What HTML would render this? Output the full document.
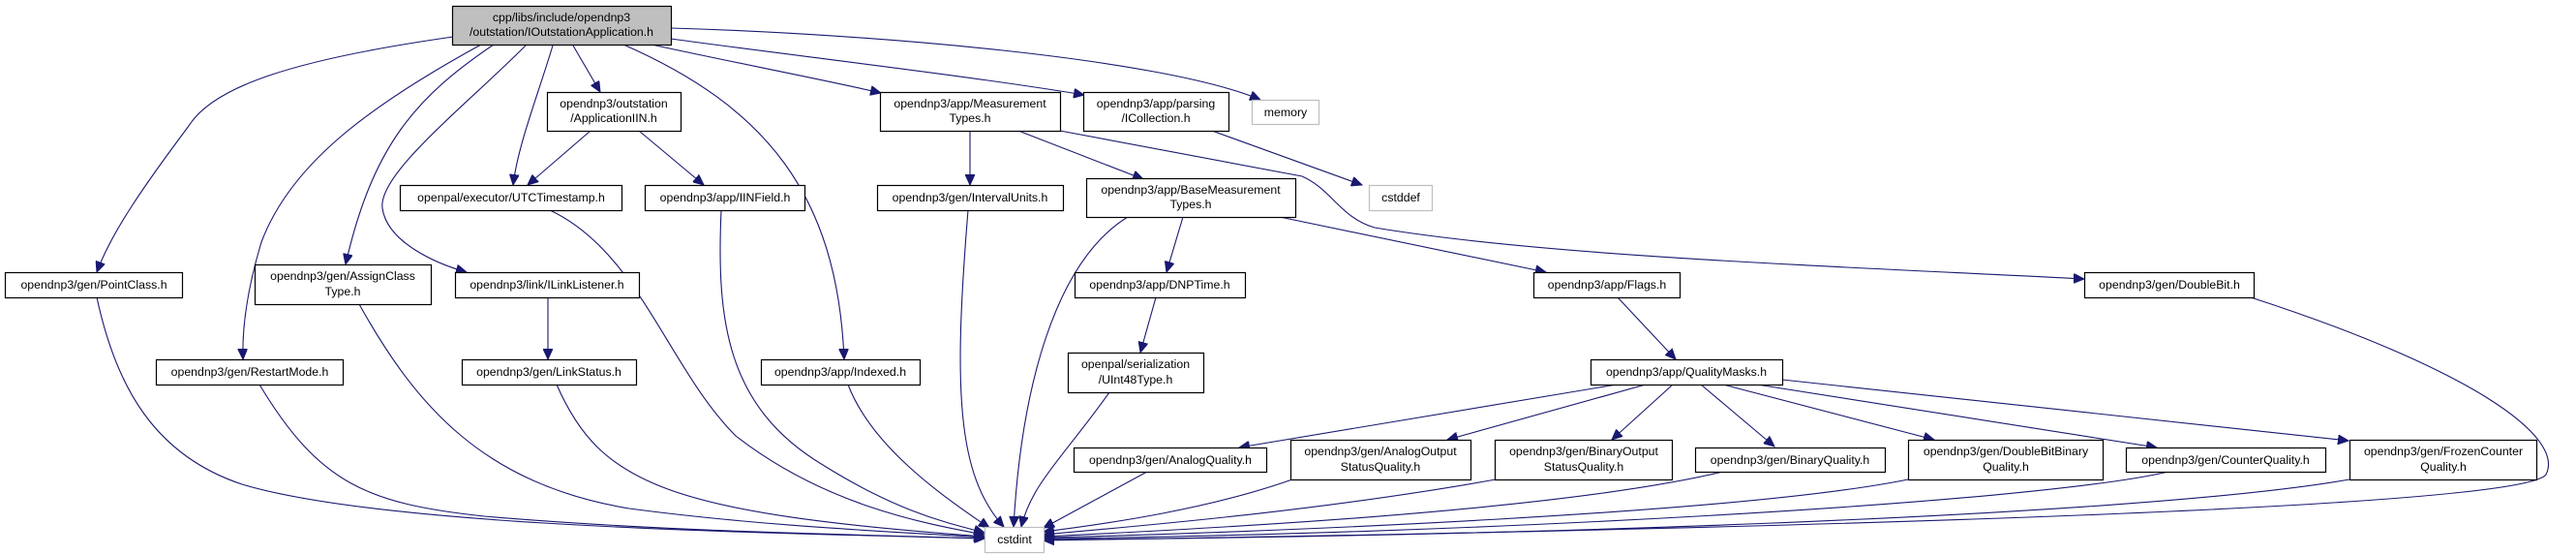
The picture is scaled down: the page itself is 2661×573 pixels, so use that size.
<!DOCTYPE html>
<html><head><meta charset="utf-8"><style>
html,body{margin:0;padding:0;background:#fff;}
svg{display:block;}
text{font-family:"Liberation Sans",Arial,sans-serif;font-size:12.3px;fill:#000;text-anchor:middle;}
.n{fill:#fff;stroke:#000;stroke-width:1.2;}
.g{fill:#fff;stroke:#bfbfbf;stroke-width:1.2;}
.e{fill:none;stroke:#191970;stroke-width:1.1;}
</style></head><body>
<svg width="2661" height="573" viewBox="0 0 2661 573" xmlns="http://www.w3.org/2000/svg">
<defs>
<marker id="a" markerUnits="userSpaceOnUse" markerWidth="12" markerHeight="10" refX="11" refY="5" orient="auto">
<path d="M0,0 L11,5 L0,10 z" fill="#191970" stroke="#191970"/>
</marker>
</defs>
<g class="edges">
<!-- from main -->
<path class="e" marker-end="url(#a)" d="M468,38 C300,62 220,90 195,130 C150,190 115,240 100,281"/>
<path class="e" marker-end="url(#a)" d="M497,46 C380,110 300,170 270,250 C255,300 250,340 251,371"/>
<path class="e" marker-end="url(#a)" d="M510,46 C430,100 385,150 357,273"/>
<path class="e" marker-end="url(#a)" d="M543,47 C480,110 390,180 395,215 C400,250 450,272 482,281"/>
<path class="e" marker-end="url(#a)" d="M571,47 C555,100 535,150 530,191"/>
<path class="e" marker-end="url(#a)" d="M592,47 L620,95"/>
<path class="e" marker-end="url(#a)" d="M644,46 C790,110 865,200 872,371"/>
<path class="e" marker-end="url(#a)" d="M673,46 C760,65 850,82 910,96"/>
<path class="e" marker-end="url(#a)" d="M693,40 C800,55 1000,78 1120,98"/>
<path class="e" marker-end="url(#a)" d="M693,29 C900,35 1200,60 1302,103"/>
<!-- second level -->
<path class="e" marker-end="url(#a)" d="M610,135 L545,191"/>
<path class="e" marker-end="url(#a)" d="M660,135 L727,191"/>
<path class="e" marker-end="url(#a)" d="M1002,135 L1002,191"/>
<path class="e" marker-end="url(#a)" d="M1052,135 L1181,185"/>
<path class="e" marker-end="url(#a)" d="M1095,135 L1345,182 C1375,195 1385,225 1420,235 C1600,265 1900,275 2153,288"/>
<path class="e" marker-end="url(#a)" d="M1252,135 L1407,191"/>
<path class="e" marker-end="url(#a)" d="M1222,224 L1205,281"/>
<path class="e" marker-end="url(#a)" d="M1322,224 L1597,281"/>
<path class="e" marker-end="url(#a)" d="M1194,307 L1178,364"/>
<path class="e" marker-end="url(#a)" d="M1671,307 L1731,371"/>
<path class="e" marker-end="url(#a)" d="M566,307 L566,371"/>
<!-- QualityMasks fan -->
<path class="e" marker-end="url(#a)" d="M1670,397 L1280,462"/>
<path class="e" marker-end="url(#a)" d="M1700,397 L1495,454"/>
<path class="e" marker-end="url(#a)" d="M1728,397 L1665,454"/>
<path class="e" marker-end="url(#a)" d="M1757,397 L1833,461"/>
<path class="e" marker-end="url(#a)" d="M1780,397 L1998,454"/>
<path class="e" marker-end="url(#a)" d="M1815,397 L2228,462"/>
<path class="e" marker-end="url(#a)" d="M1841,392 L2426,455"/>
<!-- to cstdint -->
<path class="e" marker-end="url(#a)" d="M100,307 C120,400 160,470 250,500 C400,545 800,550 1017,556"/>
<path class="e" marker-end="url(#a)" d="M268,397 C330,500 380,520 500,533 C700,550 900,552 1017,556"/>
<path class="e" marker-end="url(#a)" d="M371,314 C430,420 500,500 650,525 C800,545 950,550 1017,555"/>
<path class="e" marker-end="url(#a)" d="M575,397 C620,500 690,530 1017,554"/>
<path class="e" marker-end="url(#a)" d="M568,217 C660,260 690,380 760,450 C850,520 950,540 1017,552"/>
<path class="e" marker-end="url(#a)" d="M745,217 C740,330 750,420 850,480 C930,530 980,540 1017,550"/>
<path class="e" marker-end="url(#a)" d="M876,397 C900,460 970,510 1022,545"/>
<path class="e" marker-end="url(#a)" d="M1000,217 C985,400 988,490 1037,544"/>
<path class="e" marker-end="url(#a)" d="M1165,224 C1090,270 1055,400 1047,544"/>
<path class="e" marker-end="url(#a)" d="M1146,405 C1100,470 1065,500 1055,544"/>
<path class="e" marker-end="url(#a)" d="M1185,487 L1078,545"/>
<path class="e" marker-end="url(#a)" d="M1335,495 C1250,525 1150,540 1078,549"/>
<path class="e" marker-end="url(#a)" d="M1545,495 C1350,530 1150,545 1078,552"/>
<path class="e" marker-end="url(#a)" d="M1780,487 C1600,530 1200,548 1078,554"/>
<path class="e" marker-end="url(#a)" d="M1971,495 C1800,530 1300,550 1078,555"/>
<path class="e" marker-end="url(#a)" d="M2240,487 C2100,520 1500,552 1078,556"/>
<path class="e" marker-end="url(#a)" d="M2427,495 C2200,535 1500,555 1078,557"/>
<path class="e" marker-end="url(#a)" d="M2325,307 C2550,380 2650,450 2630,490 C2600,530 1600,550 1078,558"/>
</g>
<g>
<rect x="467.5" y="6.5" width="226" height="40" fill="#bfbfbf" stroke="#000" stroke-width="1.2"/>
<text x="580" y="22">cpp/libs/include/opendnp3</text>
<text x="580" y="37">/outstation/IOutstationApplication.h</text>

<rect class="n" x="565.5" y="95.5" width="138" height="40"/>
<text x="634" y="111">opendnp3/outstation</text><text x="634" y="126">/ApplicationIIN.h</text>

<rect class="n" x="909.5" y="95.5" width="186" height="40"/>
<text x="1002" y="111">opendnp3/app/Measurement</text><text x="1002" y="126">Types.h</text>

<rect class="n" x="1119.5" y="95.5" width="150" height="40"/>
<text x="1194" y="111">opendnp3/app/parsing</text><text x="1194" y="126">/ICollection.h</text>

<rect class="g" x="1293.5" y="103.5" width="69" height="25"/>
<text x="1328" y="120">memory</text>

<rect class="n" x="413.5" y="191.5" width="229" height="26"/>
<text x="528" y="208">openpal/executor/UTCTimestamp.h</text>

<rect class="n" x="666.5" y="191.5" width="165" height="26"/>
<text x="749" y="208">opendnp3/app/IINField.h</text>

<rect class="n" x="906.5" y="191.5" width="192" height="26"/>
<text x="1002" y="208">opendnp3/gen/IntervalUnits.h</text>

<rect class="n" x="1122.5" y="184.5" width="216" height="40"/>
<text x="1230" y="200">opendnp3/app/BaseMeasurement</text><text x="1230" y="215">Types.h</text>

<rect class="g" x="1414.5" y="191.5" width="65" height="26"/>
<text x="1447" y="208">cstddef</text>

<rect class="n" x="5.5" y="281.5" width="183" height="26"/>
<text x="97" y="298">opendnp3/gen/PointClass.h</text>

<rect class="n" x="263.5" y="273.5" width="182" height="41"/>
<text x="354" y="289">opendnp3/gen/AssignClass</text><text x="354" y="305">Type.h</text>

<rect class="n" x="470.5" y="281.5" width="190" height="26"/>
<text x="565" y="298">opendnp3/link/ILinkListener.h</text>

<rect class="n" x="1110.5" y="281.5" width="176" height="26"/>
<text x="1198" y="298">opendnp3/app/DNPTime.h</text>

<rect class="n" x="1584.5" y="281.5" width="151" height="26"/>
<text x="1660" y="298">opendnp3/app/Flags.h</text>

<rect class="n" x="2153.5" y="281.5" width="175" height="26"/>
<text x="2241" y="298">opendnp3/gen/DoubleBit.h</text>

<rect class="n" x="161.5" y="371.5" width="193" height="26"/>
<text x="258" y="388">opendnp3/gen/RestartMode.h</text>

<rect class="n" x="477.5" y="371.5" width="180" height="26"/>
<text x="567" y="388">opendnp3/gen/LinkStatus.h</text>

<rect class="n" x="786.5" y="371.5" width="164" height="26"/>
<text x="868" y="388">opendnp3/app/Indexed.h</text>

<rect class="n" x="1103.5" y="364.5" width="140" height="41"/>
<text x="1173" y="380">openpal/serialization</text><text x="1173" y="396">/UInt48Type.h</text>

<rect class="n" x="1643.5" y="371.5" width="198" height="26"/>
<text x="1742" y="388">opendnp3/app/QualityMasks.h</text>

<rect class="n" x="1109.5" y="462.5" width="199" height="25"/>
<text x="1209" y="479">opendnp3/gen/AnalogQuality.h</text>

<rect class="n" x="1333.5" y="454.5" width="186" height="41"/>
<text x="1426" y="470">opendnp3/gen/AnalogOutput</text><text x="1426" y="486">StatusQuality.h</text>

<rect class="n" x="1544.5" y="454.5" width="183" height="41"/>
<text x="1636" y="470">opendnp3/gen/BinaryOutput</text><text x="1636" y="486">StatusQuality.h</text>

<rect class="n" x="1751.5" y="462.5" width="196" height="25"/>
<text x="1849" y="479">opendnp3/gen/BinaryQuality.h</text>

<rect class="n" x="1971.5" y="454.5" width="201" height="41"/>
<text x="2072" y="470">opendnp3/gen/DoubleBitBinary</text><text x="2072" y="486">Quality.h</text>

<rect class="n" x="2196.5" y="462.5" width="206" height="25"/>
<text x="2299" y="479">opendnp3/gen/CounterQuality.h</text>

<rect class="n" x="2427.5" y="454.5" width="193" height="41"/>
<text x="2524" y="470">opendnp3/gen/FrozenCounter</text><text x="2524" y="486">Quality.h</text>

<rect class="g" x="1017.5" y="544.5" width="61" height="26"/>
<text x="1048" y="561">cstdint</text>
</g>
</svg>
</body></html>
